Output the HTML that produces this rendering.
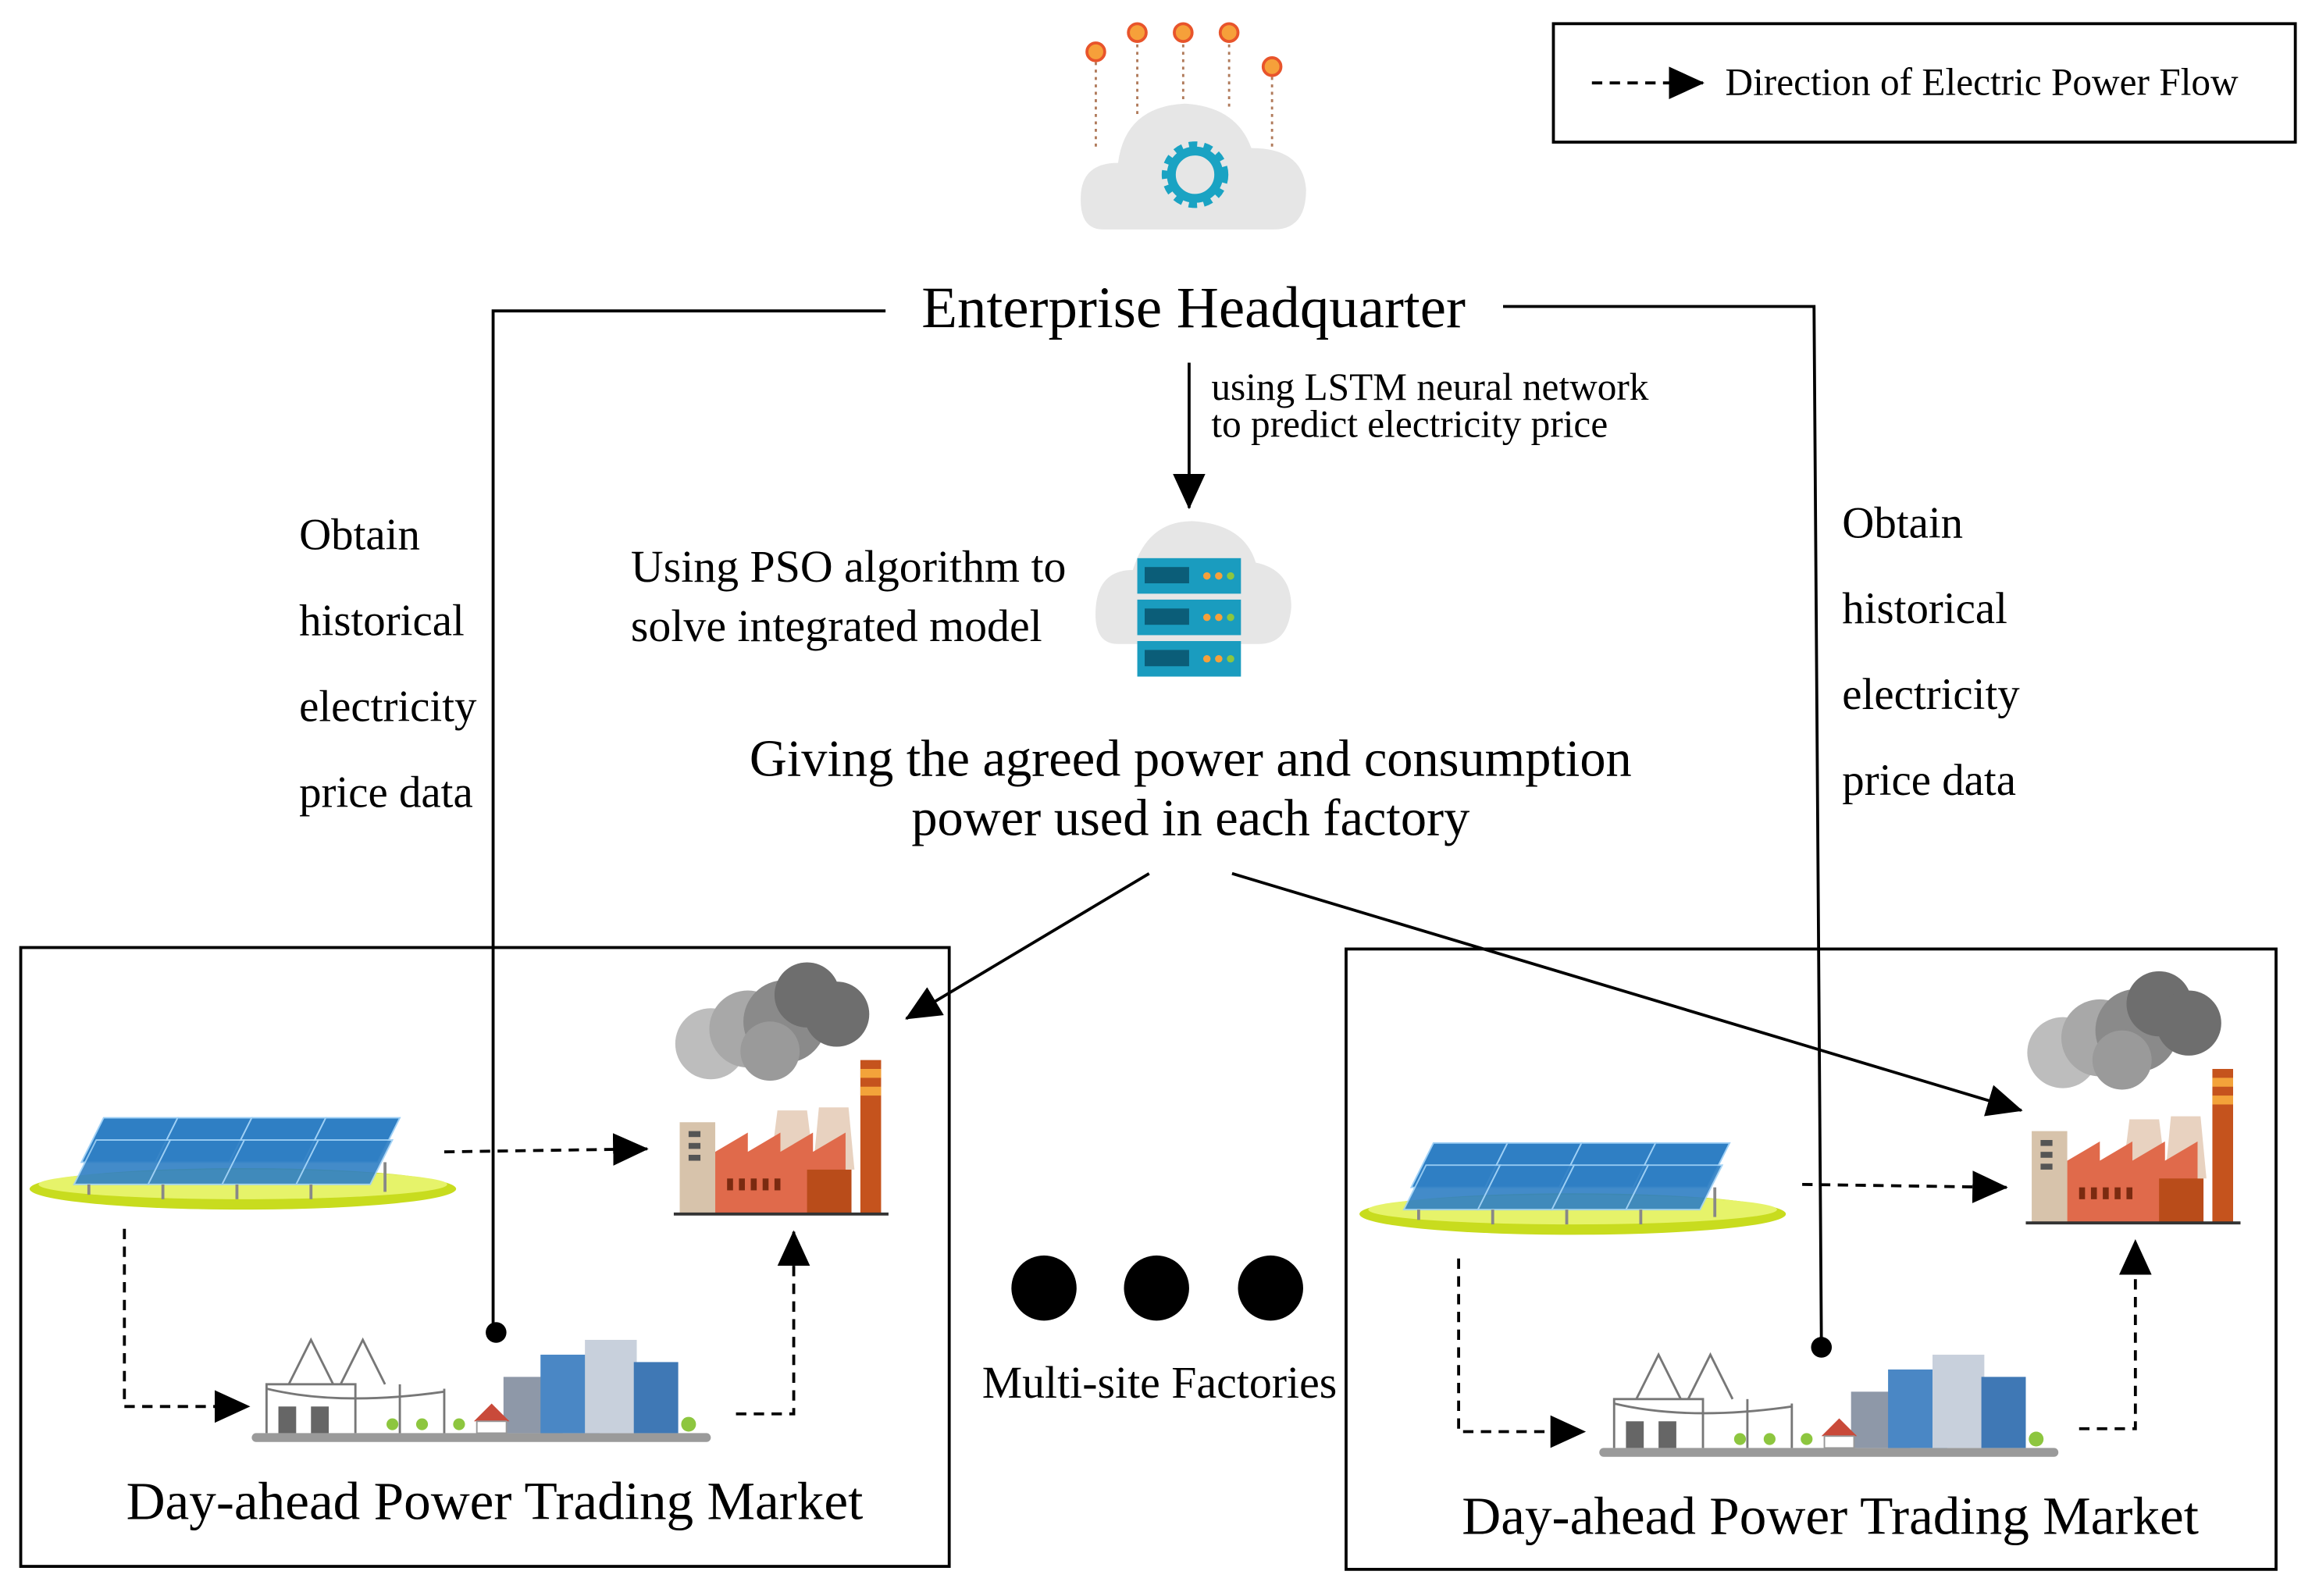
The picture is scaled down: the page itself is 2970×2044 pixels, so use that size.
<!DOCTYPE html>
<html><head><meta charset="utf-8"><style>html,body{margin:0;padding:0;background:#fff}svg{display:block}</style></head>
<body>
<svg width="2970" height="2044" viewBox="0 0 1566 1078" preserveAspectRatio="none" xmlns="http://www.w3.org/2000/svg" font-family="Liberation Serif, serif">
<defs>
<marker id="ab" markerWidth="24" markerHeight="22" refX="23" refY="11" orient="auto" markerUnits="userSpaceOnUse" viewBox="0 0 24 22"><path d="M0,0 L24,11 L0,22 z" fill="#000"/></marker>
<g id="solar">
<ellipse cx="144" cy="48" rx="144" ry="14" fill="#c8dc1e"/>
<ellipse cx="144" cy="45" rx="138" ry="10" fill="#e6f36a"/>
<g fill="#2f7fc4" stroke="#9fd0f5" stroke-width="1">
<polygon points="50,0 100,0 85,30 35,30"/><polygon points="100,0 150,0 135,30 85,30"/><polygon points="150,0 200,0 185,30 135,30"/><polygon points="200,0 250,0 235,30 185,30"/>
<polygon points="45,15 95,15 80,45 30,45" opacity=".9"/><polygon points="95,15 145,15 130,45 80,45" opacity=".9"/><polygon points="145,15 195,15 180,45 130,45" opacity=".9"/><polygon points="195,15 245,15 230,45 180,45" opacity=".9"/>
</g>
<g stroke="#888" stroke-width="2"><line x1="40" y1="45" x2="40" y2="52"/><line x1="90" y1="45" x2="90" y2="55"/><line x1="140" y1="45" x2="140" y2="55"/><line x1="190" y1="45" x2="190" y2="55"/><line x1="240" y1="30" x2="240" y2="50"/></g>
</g>
<g id="factory">
<circle cx="35" cy="55" r="24" fill="#bdbdbd"/><circle cx="60" cy="45" r="26" fill="#a8a8a8"/><circle cx="85" cy="40" r="28" fill="#8a8a8a"/><circle cx="100" cy="22" r="22" fill="#6e6e6e"/><circle cx="120" cy="35" r="22" fill="#6e6e6e"/><circle cx="75" cy="60" r="20" fill="#9a9a9a"/>
<polygon points="80,100 100,100 105,140 75,140" fill="#e8d2c0"/><polygon points="108,98 128,98 132,140 104,140" fill="#e8d2c0"/>
<rect x="136" y="66" width="14" height="104" fill="#c5531d"/><rect x="136" y="72" width="14" height="6" fill="#f3a33a"/><rect x="136" y="84" width="14" height="6" fill="#f3a33a"/>
<rect x="14" y="108" width="24" height="62" fill="#d7c3ab"/><rect x="20" y="114" width="8" height="4" fill="#555"/><rect x="20" y="122" width="8" height="4" fill="#555"/><rect x="20" y="130" width="8" height="4" fill="#555"/>
<polygon points="38,170 38,128 60,115 60,128 82,115 82,128 104,115 104,128 126,115 126,170" fill="#e06a4b"/>
<rect x="100" y="140" width="30" height="30" fill="#b94c1a"/>
<g fill="#7a2a10"><rect x="46" y="146" width="4" height="8"/><rect x="54" y="146" width="4" height="8"/><rect x="62" y="146" width="4" height="8"/><rect x="70" y="146" width="4" height="8"/><rect x="78" y="146" width="4" height="8"/></g>
<line x1="10" y1="170" x2="155" y2="170" stroke="#333" stroke-width="2"/>
</g>
<g id="market">
<rect x="0" y="68" width="310" height="6" rx="3" fill="#9a9a9a"/>
<g stroke="#777" stroke-width="1.5" fill="none"><path d="M10,68 L10,35 L70,35 L70,68"/><path d="M25,35 L40,5 L55,35"/><path d="M60,35 L75,5 L90,35"/><line x1="100" y1="68" x2="100" y2="35"/><line x1="130" y1="68" x2="130" y2="38"/><path d="M10,38 Q60,50 130,40"/></g>
<rect x="18" y="50" width="12" height="18" fill="#666"/><rect x="40" y="50" width="12" height="18" fill="#666"/>
<rect x="170" y="30" width="40" height="38" fill="#8e98a8"/><rect x="195" y="15" width="40" height="53" fill="#4a87c5"/><rect x="225" y="5" width="35" height="63" fill="#c8d0dc"/><rect x="258" y="20" width="30" height="48" fill="#3f78b5"/>
<polygon points="150,60 162,48 174,60" fill="#c94a3a"/><rect x="152" y="60" width="20" height="8" fill="#fff" stroke="#999"/>
<g fill="#8dc63f"><circle cx="95" cy="62" r="4"/><circle cx="115" cy="62" r="4"/><circle cx="140" cy="62" r="4"/><circle cx="295" cy="62" r="5"/></g>
</g>
</defs>

<rect x="1049" y="16" width="501" height="80" fill="none" stroke="#000" stroke-width="2"/>
<line x1="1075" y1="56" x2="1150" y2="56" stroke="#000" stroke-width="2" stroke-dasharray="7,5" marker-end="url(#ab)"/>
<text x="1165" y="64" font-size="26">Direction of Electric Power Flow</text>

<g>
<g stroke="#b07a5a" stroke-width="1.5" stroke-dasharray="2,3"><line x1="740" y1="42" x2="740" y2="100"/><line x1="768" y1="30" x2="768" y2="80"/><line x1="799" y1="30" x2="799" y2="70"/><line x1="830" y1="30" x2="830" y2="75"/><line x1="859" y1="52" x2="859" y2="100"/></g>
<g fill="#f6a03a" stroke="#e8542b" stroke-width="2"><circle cx="740" cy="35" r="6"/><circle cx="768" cy="22" r="6"/><circle cx="799" cy="22" r="6"/><circle cx="830" cy="22" r="6"/><circle cx="859" cy="45" r="6"/></g>
<path d="M745,155 Q728,155 730,130 Q732,110 755,110 Q760,72 800,70 Q835,72 845,100 Q880,100 882,128 Q882,155 860,155 Z" fill="#e6e6e6"/>
<circle cx="807" cy="118" r="18" fill="none" stroke="#1aa3c3" stroke-width="9" stroke-dasharray="5,4"/>
<circle cx="807" cy="118" r="16" fill="none" stroke="#1aa3c3" stroke-width="6"/>
</g>

<text x="806" y="221" font-size="39.5" text-anchor="middle">Enterprise Headquarter</text>
<polyline points="598,210 333,210 333,900" fill="none" stroke="#000" stroke-width="2"/>
<circle cx="335" cy="900" r="7" fill="#000"/>
<polyline points="1015,207 1225,207 1230,910" fill="none" stroke="#000" stroke-width="2"/>
<circle cx="1230" cy="910" r="7" fill="#000"/>
<line x1="803" y1="245" x2="803" y2="343" stroke="#000" stroke-width="2" marker-end="url(#ab)"/>
<text x="818" y="270" font-size="26">using LSTM neural network</text>
<text x="818" y="295" font-size="26">to predict electricity price</text>
<text x="426" y="393" font-size="30.5">Using PSO algorithm to</text>
<text x="426" y="433" font-size="30.5">solve integrated model</text>

<path d="M755,435 Q738,435 740,410 Q742,385 765,385 Q775,352 805,352 Q840,354 848,380 Q872,385 872,410 Q870,435 850,435 Z" fill="#e6e6e6"/>
<g><rect x="768" y="377" width="70" height="24" fill="#1a9cbf"/><rect x="768" y="405" width="70" height="24" fill="#1a9cbf"/><rect x="768" y="433" width="70" height="24" fill="#1a9cbf"/>
<g fill="#0b5d78"><rect x="773" y="383" width="30" height="11"/><rect x="773" y="411" width="30" height="11"/><rect x="773" y="439" width="30" height="11"/></g>
<g fill="#f6a03a"><circle cx="815" cy="389" r="2.5"/><circle cx="823" cy="389" r="2.5"/><circle cx="815" cy="417" r="2.5"/><circle cx="823" cy="417" r="2.5"/><circle cx="815" cy="445" r="2.5"/><circle cx="823" cy="445" r="2.5"/></g>
<g fill="#8dc63f"><circle cx="831" cy="389" r="2.5"/><circle cx="831" cy="417" r="2.5"/><circle cx="831" cy="445" r="2.5"/></g></g>

<text x="804" y="524" font-size="35" text-anchor="middle">Giving the agreed power and consumption</text>
<text x="804" y="564" font-size="35" text-anchor="middle">power used in each factory</text>

<g font-size="30"><text x="202" y="371">Obtain</text><text x="202" y="429">historical</text><text x="202" y="487">electricity</text><text x="202" y="545">price data</text>
<text x="1244" y="363">Obtain</text><text x="1244" y="421">historical</text><text x="1244" y="479">electricity</text><text x="1244" y="537">price data</text></g>

<line x1="776" y1="590" x2="612" y2="688" stroke="#000" stroke-width="2" marker-end="url(#ab)"/>
<line x1="832" y1="590" x2="1365" y2="750" stroke="#000" stroke-width="2" marker-end="url(#ab)"/>

<rect x="14" y="640" width="627" height="418" fill="none" stroke="#000" stroke-width="2"/>
<use href="#solar" x="20" y="755"/>
<use href="#factory" x="445" y="650"/>
<use href="#market" x="170" y="900"/>
<g stroke="#000" stroke-width="2" stroke-dasharray="7,5" fill="none">
<line x1="300" y1="778" x2="437" y2="776" marker-end="url(#ab)"/>
<polyline points="84,830 84,950 168,950" marker-end="url(#ab)"/>
<polyline points="497,955 536,955 536,832" marker-end="url(#ab)"/>
</g>
<text x="334" y="1026" font-size="36.5" text-anchor="middle">Day-ahead Power Trading Market</text>

<circle cx="705" cy="870" r="22" fill="#000"/><circle cx="781" cy="870" r="22" fill="#000"/><circle cx="858" cy="870" r="22" fill="#000"/>
<text x="783" y="944" font-size="30.5" text-anchor="middle">Multi-site Factories</text>

<rect x="909" y="641" width="628" height="419" fill="none" stroke="#000" stroke-width="2"/>
<use href="#solar" x="918" y="772"/>
<use href="#factory" x="1358" y="656"/>
<use href="#market" x="1080" y="910"/>
<g stroke="#000" stroke-width="2" stroke-dasharray="7,5" fill="none">
<line x1="1217" y1="800" x2="1355" y2="802" marker-end="url(#ab)"/>
<polyline points="985,850 985,967 1070,967" marker-end="url(#ab)"/>
<polyline points="1404,965 1442,965 1442,838" marker-end="url(#ab)"/>
</g>
<text x="1236" y="1036" font-size="36.5" text-anchor="middle">Day-ahead Power Trading Market</text>
</svg>
</body></html>
